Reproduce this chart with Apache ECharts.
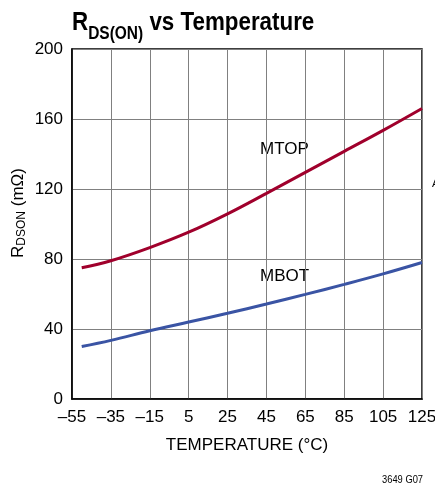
<!DOCTYPE html>
<html><head><meta charset="utf-8">
<script src="https://cdn.jsdelivr.net/npm/echarts@6/dist/echarts.min.js"></script>
<style>html,body{margin:0;padding:0;background:#fff}#c{width:435px;height:485px}</style>
</head><body><div id="c"></div>
<script>
const temps = [-50, -35, -15, 5, 25, 45, 65, 85, 105, 125];
const mtop = [75, 79, 86.5, 95.3, 105.8, 117.5, 129.5, 141.5, 153.5, 166];
const mbot = [30, 33.5, 39, 44, 49, 54.3, 59.8, 65.5, 71.5, 78];
const xTicks = [-55, -35, -15, 5, 25, 45, 65, 85, 105, 125];
const yTicks = [0, 40, 80, 120, 160, 200];
const X0 = -55;
const FONT = '"Liberation Sans", Arial, sans-serif';

const chart = echarts.init(document.getElementById('c'));
const toPts = arr => temps.map((t, i) => [t - X0, arr[i]]);
chart.setOption({
  animation: false,
  grid: {left: 72, right: 13, top: 49, bottom: 86, show: true, borderColor: '#000', borderWidth: 1.5,
         backgroundColor: 'transparent', outerBoundsMode: 'none', containLabel: false},
  xAxis: {
    type: 'value', min: 0, max: 180, interval: 20,
    axisLine: {show: true, lineStyle: {color: '#000', width: 1.5}},
    axisTick: {show: false},
    splitLine: {show: true, lineStyle: {color: '#808080', width: 1}},
    axisLabel: {fontFamily: FONT, fontSize: 17, color: '#000', margin: 10,
      formatter: v => { const t = v + X0; return t < 0 ? '\u2013' + Math.abs(t) : String(t); }},
    name: 'TEMPERATURE (°C)', nameLocation: 'middle', nameGap: 38,
    nameTextStyle: {fontFamily: FONT, fontSize: 17, color: '#000'}
  },
  yAxis: {
    type: 'value', min: 0, max: 200, interval: 40,
    axisLine: {show: true, lineStyle: {color: '#000', width: 1.5}},
    axisTick: {show: false},
    splitLine: {show: true, lineStyle: {color: '#808080', width: 1}},
    axisLabel: {fontFamily: FONT, fontSize: 17, color: '#000', margin: 9}
  },
  series: [
    {type: 'line', data: toPts(mtop), smooth: 0.4, showSymbol: false, lineStyle: {color: '#a0002c', width: 3}},
    {type: 'line', data: toPts(mbot), smooth: 0.4, showSymbol: false, lineStyle: {color: '#3a54a4', width: 3}}
  ],
  graphic: [
    {type: 'text', x: 72, y: 6, scaleX: 0.86, style: {
      text: '{r|R}{sub|DS(ON)}{t| vs Temperature}',
      rich: {
        r: {fontFamily: FONT, fontWeight: 'bold', fontSize: 26, fill: '#000', verticalAlign: 'bottom', lineHeight: 30},
        sub: {fontFamily: FONT, fontWeight: 'bold', fontSize: 18, fill: '#000', verticalAlign: 'bottom', lineHeight: 30, padding: [0,0,-7,0]},
        t: {fontFamily: FONT, fontWeight: 'bold', fontSize: 26, fill: '#000', verticalAlign: 'bottom', lineHeight: 30}
      }}},
    {type: 'text', x: 18, y: 213, rotation: Math.PI / 2, style: {
      text: '{a|R}{b|DSON}{a| (mΩ)}', align: 'center', verticalAlign: 'middle',
      rich: {
        a: {fontFamily: FONT, fontSize: 17, fill: '#000'},
        b: {fontFamily: FONT, fontSize: 12, fill: '#000', padding: [0,0,-7,0]}
      }}},
    {type: 'text', left: 260, top: 141, style: {text: 'MTOP', font: '17px ' + FONT, fill: '#000', backgroundColor: '#fff'}},
    {type: 'text', left: 260, top: 268, style: {text: 'MBOT', font: '17px ' + FONT, fill: '#000', backgroundColor: '#fff'}},
    {type: 'text', x: 382, y: 474, scaleX: 0.85, style: {text: '3649 G07', font: '11px ' + FONT, fill: '#000'}},
    {type: 'text', x: 432, y: 178, style: {text: 'A', font: '11px ' + FONT, fill: '#000'}}
  ]
});
</script></body></html>
